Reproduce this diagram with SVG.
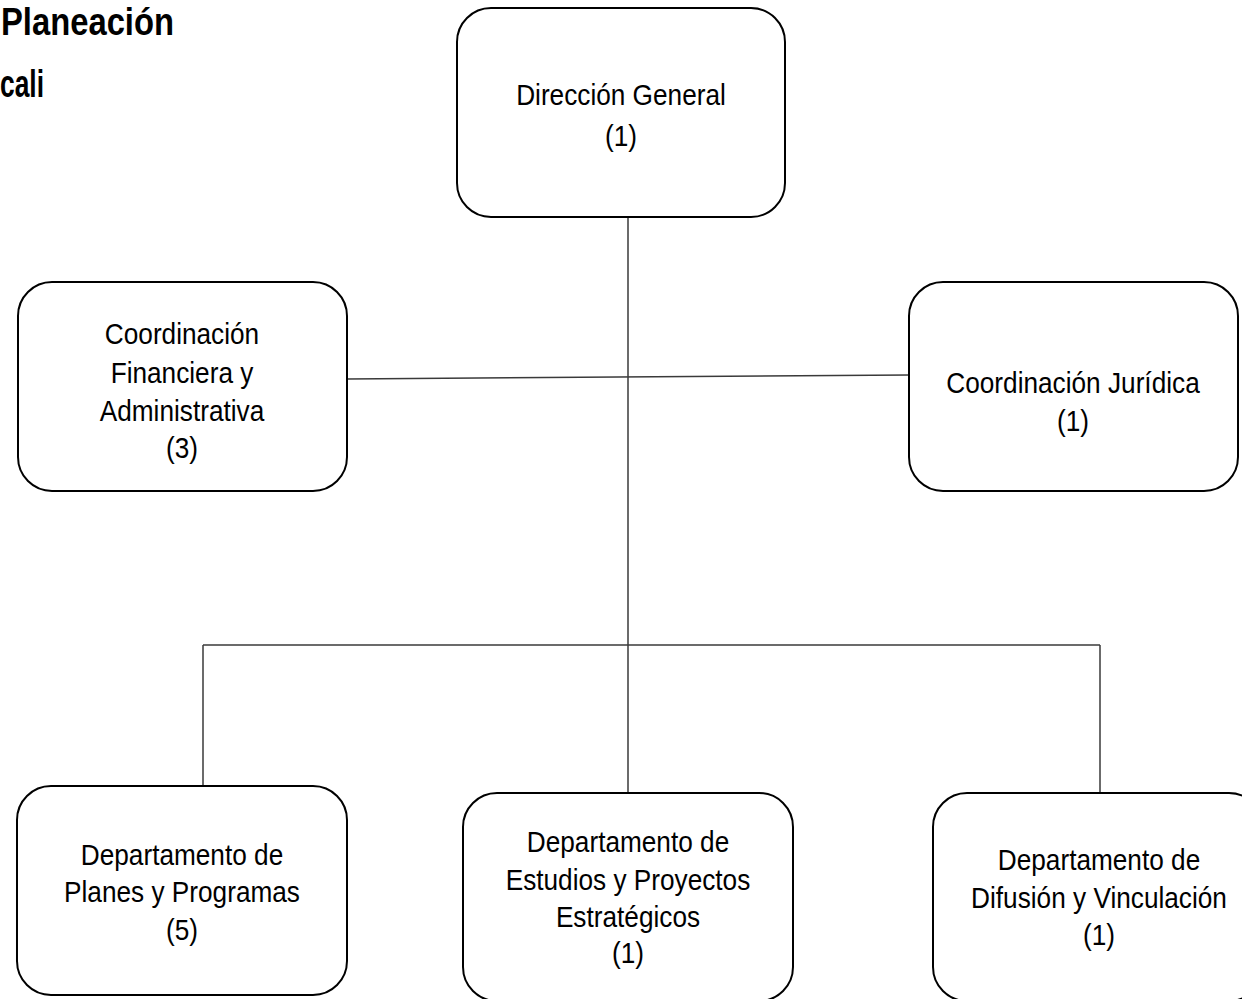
<svg xmlns="http://www.w3.org/2000/svg" width="1242" height="999" viewBox="0 0 1242 999">
<style>
.box{fill:#fff;stroke:#000;stroke-width:2}
.t{font-family:"Liberation Sans",Arial,sans-serif;font-size:30px;fill:#000;text-anchor:middle}
.title{font-family:"Liberation Sans",Arial,sans-serif;font-size:38px;font-weight:bold;fill:#000}
.c{stroke:#3a3a3a;stroke-width:1.5;fill:none}
</style>
<rect width="1242" height="999" fill="#fff"/>
<g id="title">
<text class="title" x="1" y="35" textLength="173" lengthAdjust="spacingAndGlyphs">Planeación</text>
<text class="title" x="0" y="97" textLength="44" lengthAdjust="spacingAndGlyphs">cali</text>
</g>
<g id="connectors">
<line class="c" x1="628" y1="217" x2="628" y2="793"/>
<line class="c" x1="347" y1="379" x2="909" y2="375"/>
<line class="c" x1="203" y1="645" x2="1100" y2="645"/>
<line class="c" x1="203" y1="645" x2="203" y2="786"/>
<line class="c" x1="1100" y1="645" x2="1100" y2="793"/>
</g>
<g id="direccion-general">
<rect class="box" x="457" y="8" width="328" height="209" rx="34"/>
<text class="t" x="621" y="105" textLength="209.7" lengthAdjust="spacingAndGlyphs">Dirección General</text>
<text class="t" x="621" y="146" textLength="32" lengthAdjust="spacingAndGlyphs">(1)</text>
</g>
<g id="coord-financiera">
<rect class="box" x="18" y="282" width="329" height="209" rx="34"/>
<text class="t" x="182" y="344" textLength="154.3" lengthAdjust="spacingAndGlyphs">Coordinación</text>
<text class="t" x="182" y="383" textLength="142.7" lengthAdjust="spacingAndGlyphs">Financiera y</text>
<text class="t" x="182" y="421" textLength="164.5" lengthAdjust="spacingAndGlyphs">Administrativa</text>
<text class="t" x="182" y="458" textLength="32" lengthAdjust="spacingAndGlyphs">(3)</text>
</g>
<g id="coord-juridica">
<rect class="box" x="909" y="282" width="329" height="209" rx="34"/>
<text class="t" x="1073" y="393" textLength="253.4" lengthAdjust="spacingAndGlyphs">Coordinación Jurídica</text>
<text class="t" x="1073" y="431" textLength="32" lengthAdjust="spacingAndGlyphs">(1)</text>
</g>
<g id="dep-planes">
<rect class="box" x="17" y="786" width="330" height="209" rx="34"/>
<text class="t" x="182" y="865" textLength="202.4" lengthAdjust="spacingAndGlyphs">Departamento de</text>
<text class="t" x="182" y="902" textLength="235.9" lengthAdjust="spacingAndGlyphs">Planes y Programas</text>
<text class="t" x="182" y="940" textLength="32" lengthAdjust="spacingAndGlyphs">(5)</text>
</g>
<g id="dep-estudios">
<rect class="box" x="463" y="793" width="330" height="208" rx="34"/>
<text class="t" x="628" y="852" textLength="202.4" lengthAdjust="spacingAndGlyphs">Departamento de</text>
<text class="t" x="628" y="890" textLength="244.6" lengthAdjust="spacingAndGlyphs">Estudios y Proyectos</text>
<text class="t" x="628" y="927" textLength="144.2" lengthAdjust="spacingAndGlyphs">Estratégicos</text>
<text class="t" x="628" y="963" textLength="32" lengthAdjust="spacingAndGlyphs">(1)</text>
</g>
<g id="dep-difusion">
<rect class="box" x="933" y="793" width="330" height="208" rx="34"/>
<text class="t" x="1099" y="870" textLength="202.4" lengthAdjust="spacingAndGlyphs">Departamento de</text>
<text class="t" transform="translate(1099,908) scale(0.874,1)" x="0" y="0">Difusión y Vinculación</text>
<text class="t" x="1099" y="945" textLength="32" lengthAdjust="spacingAndGlyphs">(1)</text>
</g>
</svg>
